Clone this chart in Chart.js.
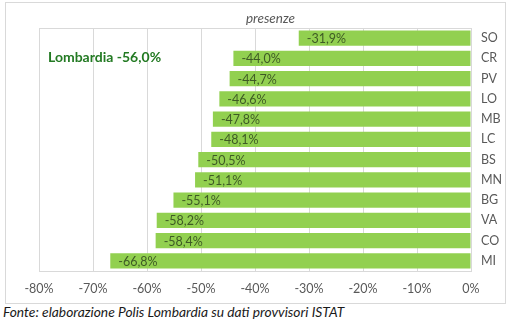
<!DOCTYPE html>
<html><head><meta charset="utf-8">
<script src="https://cdn.jsdelivr.net/npm/chart.js@4/dist/chart.umd.min.js"></script>
<style>
html,body{margin:0;padding:0;background:#fff;width:510px;height:326px;overflow:hidden;font-family:Lato,"Open Sans",sans-serif;}
#box{position:absolute;left:5px;top:2px;width:499px;height:300px;border:1px solid #d9d9d9;}
#c{position:absolute;left:0;top:0;}
#title{position:absolute;left:0;width:529px;top:7px;text-align:center;font-style:italic;font-size:13.5px;color:#595959;}
#lomb{position:absolute;left:42px;top:45px;font-weight:bold;font-size:14px;color:#237a23;}
#foot{position:absolute;left:3px;top:303px;font-style:italic;font-size:13.8px;color:#1a1a1a;white-space:nowrap;}
</style></head><body>
<div id="box"><canvas id="c" width="499" height="300"></canvas>
<div id="title">presenze</div>
<div id="lomb">Lombardia -56,0%</div></div>
<div id="foot">Fonte: elaborazione Polis Lombardia su dati provvisori ISTAT</div>
<script>
const categories = ["SO","CR","PV","LO","MB","LC","BS","MN","BG","VA","CO","MI"];
const values = [-31.9,-44.0,-44.7,-46.6,-47.8,-48.1,-50.5,-51.1,-55.1,-58.2,-58.4,-66.8];
const xTicks = [-80,-70,-60,-50,-40,-30,-20,-10,0];
const fmt = v => v.toFixed(1).replace('.', ',') + '%';

const labelPlugin = {
  id:'lbl',
  afterDatasetsDraw(chart){
    const ctx = chart.ctx;
    const meta = chart.getDatasetMeta(0);
    ctx.save();
    ctx.font = '12.5px Lato, "Open Sans", sans-serif';
    ctx.fillStyle = '#3e5a25';
    ctx.textBaseline = 'middle';
    ctx.textAlign = 'left';
    meta.data.forEach((el,i)=>{
      ctx.fillText(fmt(values[i]), el.x + 8, el.y + 1);
    });
    ctx.restore();
  },
  beforeDatasetsDraw(chart){
    const a = chart.chartArea, ctx = chart.ctx;
    ctx.save();
    ctx.strokeStyle = '#d9d9d9';
    ctx.lineWidth = 1;
    ctx.strokeRect(Math.round(a.left)+0.5, Math.round(a.top)+0.5, Math.round(a.right-a.left), Math.round(a.bottom-a.top));
    ctx.restore();
  }
};

new Chart(document.getElementById('c'), {
  type:'bar',
  data:{labels:categories, datasets:[{data:values, backgroundColor:'#92d050', borderWidth:0, barPercentage:0.76, categoryPercentage:1}]},
  options:{
    indexAxis:'y', responsive:false, animation:false,
    layout:{padding:{left:33, top:25, right:0, bottom:0}},
    plugins:{legend:{display:false}, tooltip:{enabled:false}},
    scales:{
      x:{min:-80, max:0, position:'bottom',
         afterBuildTicks(s){ s.ticks = xTicks.map(v=>({value:v})); },
         afterFit(s){ s.height = 32; },
         grid:{color:'#d9d9d9', drawTicks:false},
         border:{display:false},
         ticks:{padding:10, color:'#595959', font:{family:'Lato, "Open Sans", sans-serif', size:12.5}, callback:v=>v+'%'}},
      y:{position:'right',
         afterFit(s){ s.width = 34; },
         grid:{display:false, drawTicks:false},
         border:{display:false},
         ticks:{padding:10, color:'#595959', font:{family:'Lato, "Open Sans", sans-serif', size:12.5}}}
    }
  },
  plugins:[labelPlugin]
});
</script></body></html>
